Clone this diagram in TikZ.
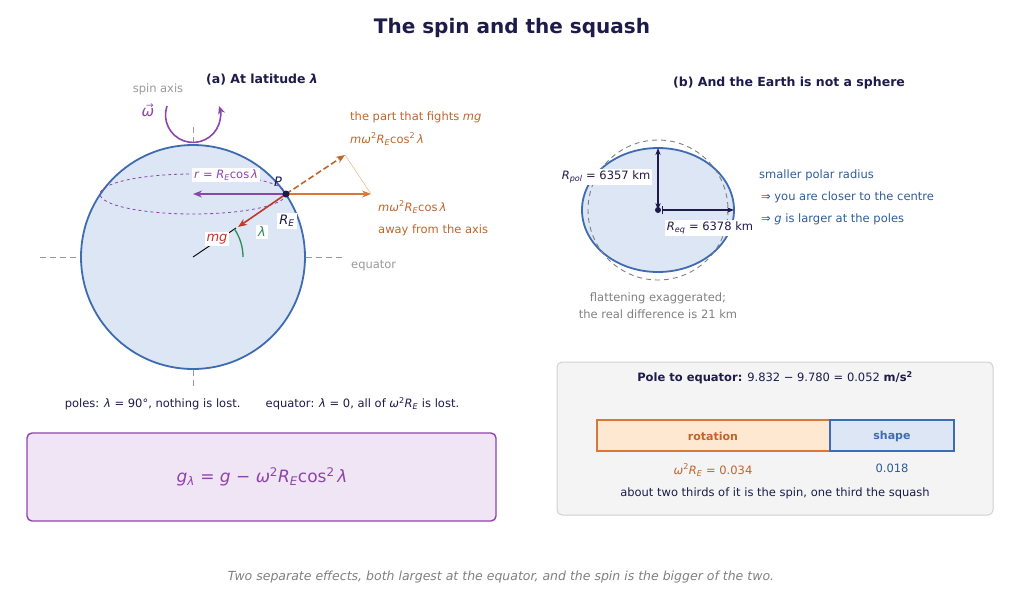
\documentclass[tikz,border=0pt]{standalone}
\usepackage{fontspec}
\setmainfont{DejaVu Sans}
\usetikzlibrary{arrows.meta}
\newcommand\vi[1]{\textit{#1}}
\newcommand\sux[1]{\textsuperscript{#1}}
\newcommand\sbx[1]{\textsubscript{\itshape #1}}
\definecolor{navy}{HTML}{1E1B4B}
\definecolor{bluee}{HTML}{3D6CB0}
\definecolor{fillb}{HTML}{DCE6F4}
\definecolor{purp}{HTML}{8E44AD}
\definecolor{oran}{HTML}{D9773A}
\definecolor{otext}{HTML}{C0652A}
\definecolor{redd}{HTML}{C0392B}
\definecolor{grn}{HTML}{2E8B57}
\definecolor{gry}{HTML}{999999}
\definecolor{txtb}{HTML}{2E5C9A}
\begin{document}
\begin{tikzpicture}[x=1pt,y=-1pt,
  t/.style={font=\fontsize{11.5}{14}\selectfont,inner sep=1pt},
  wb/.style={fill=white,inner sep=2pt},
  ar/.style={-{Stealth[length=9pt,width=7pt]},line width=1.6pt}]
\useasboundingbox (0,0) rectangle (1024,603);
\node[font=\fontsize{20}{24}\selectfont\bfseries,text=navy] (title) at (512,28) {The spin and the squash};
% (a)
\node[font=\fontsize{12.5}{15}\selectfont\bfseries,text=navy] (ta) at (262,80) {(a) At latitude \vi{λ}};
\coordinate (O) at (193,257);
\draw[gry,dashed,dash pattern=on 6pt off 4pt,line width=1pt] (193,127) -- (193,145) (193,370) -- (193,388) (40,257) -- (80,257) (306,257) -- (345,257);
\draw[bluee,fill=fillb,line width=1.8pt] (O) circle[radius=112];
\draw[purp,dashed,line width=0.8pt] (193,194) ellipse[x radius=93,y radius=20];
\node[t,text=gry] (sa) at (158,89) {spin axis};
\node[text=purp,font=\fontsize{15}{16}\selectfont] (om) at (148,110) {\vi{ω}\llap{\raisebox{0.55em}{\fontsize{9}{9}\selectfont→\hspace{0.5pt}}}};
\draw[purp,line width=1.6pt,-{Stealth[length=8pt,width=7pt]}] (167,106) arc[start angle=199,end angle=-19,radius=27.5];
\coordinate (P) at (286,194);
\draw[line width=0.9pt] (O) -- (236,228);
\draw[grn,line width=1.3pt] (243,257) arc[start angle=0,end angle=-34,radius=50];
\draw[ar,purp,line width=1.4pt] (P) -- (193,194);
\draw[ar,oran] (P) -- (371,194);
\draw[ar,otext,dashed,dash pattern=on 6pt off 3pt] (P) -- (345,155);
\draw[black!25!orange!40,line width=0.6pt] (345,155) -- (371,194);
\draw[ar,redd] (P) -- (238,227);
\fill[navy] (P) circle[radius=3.5];
\node[t,text=navy,font=\fontsize{13}{14}\selectfont] (pl) at (278,182) {\vi{P}};
\node[t,wb,text=purp] (rl) at (226,175) {\vi{r} = \vi{R}\sbx{E}cos\,\vi{λ}};
\node[t,wb,text=navy,font=\fontsize{13}{14}\selectfont] (re) at (287,221) {\vi{R}\sbx{E}};
\node[t,wb,text=grn,font=\fontsize{13}{14}\selectfont] (la) at (262,232) {\vi{λ}};
\node[t,wb,text=redd,font=\fontsize{13}{14}\selectfont] (mg) at (217,239) {\vi{mg}};
\node[t,text=otext,anchor=west] (f1) at (349,117) {the part that fights \vi{mg}};
\node[t,text=otext,anchor=west] (f2) at (349,139) {\vi{mω}\sux{2}\vi{R}\sbx{E}cos\sux{2}\,\vi{λ}};
\node[t,text=otext,anchor=west] (f3) at (377,207) {\vi{mω}\sux{2}\vi{R}\sbx{E}cos\,\vi{λ}};
\node[t,text=otext,anchor=west] (f4) at (377,230) {away from the axis};
\node[t,text=gry,anchor=west] (eq) at (350,266) {equator};
\node[t,text=navy] (pol) at (262,404) {poles: \vi{λ} = 90°, nothing is lost.\hspace{2.2em}equator: \vi{λ} = 0, all of \vi{ω}\sux{2}\vi{R}\sbx{E} is lost.};
\draw[purp,fill=purp!14,line width=1.4pt,rounded corners=5pt] (27,433) rectangle (496,521);
\node[text=purp,font=\fontsize{17}{20}\selectfont] (form) at (262,477) {\vi{g}\sbx{λ} = \vi{g} − \vi{ω}\sux{2}\vi{R}\sbx{E}cos\sux{2}\,\vi{λ}};
% (b)
\node[font=\fontsize{12.5}{15}\selectfont\bfseries,text=navy] (tb) at (789,83) {(b) And the Earth is not a sphere};
\coordinate (C) at (658,210);
\draw[bluee,fill=fillb,line width=1.8pt] (C) ellipse[x radius=76,y radius=62];
\draw[gray,dashed,dash pattern=on 5pt off 4pt,line width=0.9pt] (C) circle[radius=70];
\draw[navy,line width=1.1pt,{Stealth[length=7pt]}-{Stealth[length=7pt]}] (658,210) -- (658,148);
\draw[navy,line width=1.1pt,|-{Stealth[length=7pt]}] (662,210) -- (734,210);
\fill[navy] (C) circle[radius=3];
\node[t,wb,text=navy] (rp) at (606,177) {\vi{R}\sbx{pol} = 6357 km};
\node[t,wb,text=navy] (rq) at (710,228) {\vi{R}\sbx{eq} = 6378 km};
\node[t,text=txtb,anchor=west] (s1) at (758,175) {smaller polar radius};
\node[t,text=txtb,anchor=west] (s2) at (758,197) {\,⇒ you are closer to the centre};
\node[t,text=txtb,anchor=west] (s3) at (758,219) {\,⇒ \vi{g} is larger at the poles};
\node[t,text=gray,align=center] (cap) at (658,306) {flattening exaggerated;\\[3pt]the real difference is 21 km};
\draw[black!18,fill=blue!3!gray!8,line width=1pt,rounded corners=5pt] (557,362) rectangle (993,515);
\node[t,text=navy] (pe) at (775,378) {\textbf{Pole to equator:} 9.832 − 9.780 = 0.052 \textbf{m/s\sux{2}}};
\draw[oran,fill=orange!18,line width=1.2pt] (597,420) rectangle (830,451);
\draw[bluee,fill=fillb,line width=1.2pt] (830,420) rectangle (954,451);
\node[t,text=otext,font=\fontsize{11}{13}\selectfont\bfseries] (rot) at (713,436) {rotation};
\node[t,text=bluee,font=\fontsize{11}{13}\selectfont\bfseries] (sh) at (892,436) {shape};
\node[t,text=otext] (v1) at (713,470) {\vi{ω}\sux{2}\vi{R}\sbx{E} = 0.034};
\node[t,text=txtb] (v2) at (892,468) {0.018};
\node[t,text=navy] (tt) at (775,493) {about two thirds of it is the spin, one third the squash};
\node[t,text=gray,font=\fontsize{12.5}{14}\selectfont\itshape] (foot) at (501,577) {Two separate effects, both largest at the equator, and the spin is the bigger of the two.};
\end{tikzpicture}
\end{document}
